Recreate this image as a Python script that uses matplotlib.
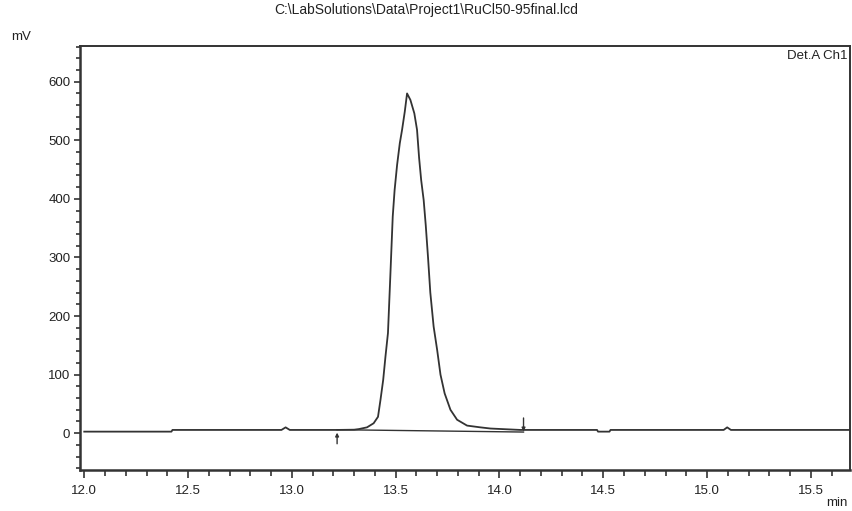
import matplotlib
matplotlib.use("Agg")
import matplotlib.pyplot as plt
from matplotlib.ticker import MultipleLocator

plt.rcParams['font.family'] = ['Liberation Sans', 'DejaVu Sans']

# chromatogram trace, Det.A Ch1 (min, mV)
time_min = [12.00, 12.42, 12.425, 12.95, 12.97, 12.99, 13.218, 13.30, 13.322,
            13.362, 13.394, 13.415, 13.427, 13.44, 13.451, 13.463, 13.474,
            13.486, 13.495, 13.507, 13.52, 13.531, 13.544, 13.555,
            13.571, 13.59, 13.603, 13.613, 13.623, 13.635, 13.645, 13.656,
            13.667, 13.683, 13.70, 13.716, 13.736, 13.764, 13.796, 13.844,
            13.908, 13.957, 14.10, 14.47, 14.475, 14.53, 14.535, 15.08,
            15.097, 15.115, 15.69]
signal_mv = [2.7, 2.7, 5.6, 5.6, 10.0, 5.6, 5.6, 6.0, 7.0,
             10.0, 17.0, 28.0, 57.0, 91.0, 131.0, 171.0, 265.0,
             370.0, 415.0, 458.0, 495.0, 518.0, 549.0, 580.0,
             569.0, 546.0, 518.0, 470.0, 432.0, 398.0, 355.0, 300.0,
             240.0, 182.0, 142.0, 100.0, 68.0, 40.0, 23.0, 13.0,
             10.0, 8.0, 5.6, 5.6, 2.7, 2.7, 5.6, 5.6,
             10.0, 5.6, 5.6]

# integration baseline and peak start / end markers
peak_start = 13.218
peak_end = 14.116
base_start_mv = 6.0
base_end_mv = 2.0

title = r"C:\LabSolutions\Data\Project1\RuCl50-95final.lcd"
ink = "#333333"
txt = "#222222"

fig = plt.figure(figsize=(8.52, 5.11), dpi=100)
ax = fig.add_axes([0.094, 0.080, 0.904, 0.830])

ax.plot(time_min, signal_mv, color=ink, lw=1.3)
ax.plot([peak_start, peak_end], [base_start_mv, base_end_mv], color=ink, lw=1.0)

arrow = dict(arrowstyle='-|>', color=ink, lw=1.0, mutation_scale=5,
             shrinkA=0, shrinkB=0)
ax.annotate('', xy=(peak_start, 1), xytext=(peak_start, -18), arrowprops=arrow)
ax.annotate('', xy=(peak_end, 3), xytext=(peak_end, 26), arrowprops=arrow)

ax.set_xlim(11.98, 15.69)
ax.set_ylim(-63, 661)
ax.xaxis.set_major_locator(MultipleLocator(0.5))
ax.xaxis.set_minor_locator(MultipleLocator(0.1))
ax.yaxis.set_major_locator(MultipleLocator(100))
ax.yaxis.set_minor_locator(MultipleLocator(20))
ax.xaxis.set_major_formatter(plt.FormatStrFormatter('%.1f'))

ax.tick_params(axis='both', which='both', direction='out', color=ink,
               labelsize=9.5, labelcolor=txt)
ax.tick_params(axis='x', which='major', length=6, width=1.2, pad=5)
ax.tick_params(axis='x', which='minor', length=4, width=1.2)
ax.tick_params(axis='y', which='major', length=4, width=1.2, pad=3)
ax.tick_params(axis='y', which='minor', length=3, width=1.2)

for side in ['left', 'bottom']:
    ax.spines[side].set_linewidth(1.8)
for side in ['top', 'right']:
    ax.spines[side].set_linewidth(1.4)
for sp in ax.spines.values():
    sp.set_color(ink)

fig.text(0.5, 0.980, title, ha='center', va='center', fontsize=10, color=txt)
fig.text(0.013, 0.928, "mV", ha='left', va='center', fontsize=9.5, color=txt)
fig.text(0.995, 0.004, "min", ha='right', va='bottom', fontsize=9.5, color=txt)
ax.text(0.997, 0.99, "Det.A Ch1", transform=ax.transAxes, ha='right', va='top',
        fontsize=9.5, color=txt)

fig.savefig("out.png", dpi=100)
